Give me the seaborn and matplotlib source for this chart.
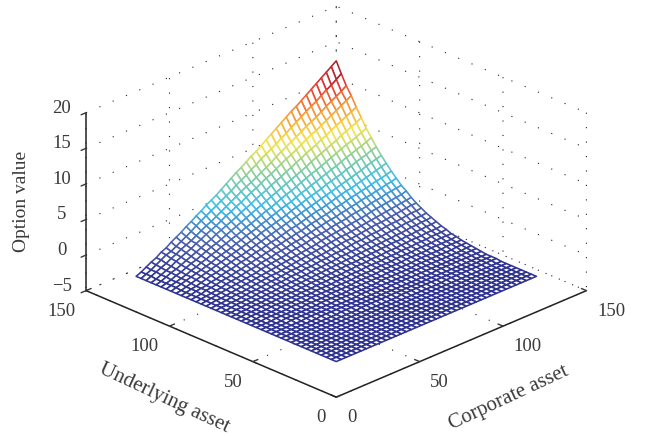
"""Option value surface: corporate asset vs underlying asset."""

import matplotlib
matplotlib.use("Agg")
import matplotlib.pyplot as plt
import numpy as np
import seaborn as sns

corporate_asset = [0, 3, 6, 9, 12, 15, 18, 21, 24, 27, 30, 33, 36, 39, 42, 45, 48, 51, 54, 57, 60,
                   63, 66, 69, 72, 75, 78, 81, 84, 87, 90, 93, 96, 99, 102, 105, 108, 111, 114, 117, 120]
underlying_asset = corporate_asset[:]

# option value, one row per underlying asset level (0 to 120)
option_value = [
    [0,0,0,0,0,0,0,0,0,0,0,0,0,0,0,0,0,0,0,0,0,0,0,0,0,0,0,0,0,0,0,0,0,0,0,0,0,0,0,0,0],
    [0,0,0,0,0,0,0,0,0,0,0,0,0,0,0,0,0,0,0,0,0,0,0,0,0,0,0,0,0,0,0,0,0,0,0,0,0,0,0,0,0],
    [0,0,0,0,0,0,0,0,0,0,0,0,0,0,0,0,0,0,0,0,0,0,0,0,0,0,0,0,0,0,0,0,0,0,0,0,0,0,0,0,0],
    [0,0,0,0,0,0,0,0,0,0,0,0,0,0,0,0,0,0,0,0,0,0,0,0,0,0,0,0,0,0,0,0,0,0,0,0,0,0,0,0,0],
    [0,0,0,0,0,0,0,0,0,0,0,0,0,0,0,0,0,0,0,0,0,0,0,0,0,0,0,0,0,0,0,0,0,0,0,0,0,0,0,0,0],
    [0,0,0,0,0,0,0,0,0,0,0,0,0,0,0,0,0,0,0,0,0,0,0,0,0,0,0,0,0,0,0,0,0,0,0,0,0,0,0,0,0],
    [0,0,0,0,0,0,0,0,0,0,0,0,0,0,0,0,0,0,0,0,0,0,0,0,0,0,0,0,0,0,0,0,0,0,0,0,0,0,0,0,0],
    [0,0,0,0,0,0,0,0,0,0,0,0,0,0,0,0,0,0,0,0,0,0,0,0,0,0,0,0,0,0,0,0,0,0,0,0,0,0,0,0,0],
    [0,0,0,0,0,0,0,0,0,0,0,0,0,0,0,0,0,0,0,0,0,0,0,0,0,0,0,0,0,0,.1,.1,.1,.1,.1,.1,.1,.1,.1,.1,.1],
    [0,0,0,0,0,0,0,0,0,0,0,0,0,0,0,0,0,0,0,0,0,0,.1,.1,.1,.1,.1,.1,.1,.1,.1,.1,.1,.1,.1,.1,.1,.1,.1,.1,.1],
    [0,0,0,0,0,0,0,0,0,0,0,0,0,0,0,.1,.1,.1,.1,.1,.1,.1,.1,.1,.1,.1,.1,.1,.1,.1,.1,.1,.1,.1,.1,.1,.1,.1,.1,.1,.1],
    [0,0,0,0,0,0,0,0,0,0,0,0,.1,.1,.1,.1,.1,.1,.1,.1,.1,.1,.1,.1,.1,.1,.1,.1,.1,.1,.1,.2,.2,.2,.2,.2,.2,.2,.2,.2,.2],
    [0,0,0,0,0,0,0,0,0,.1,.1,.1,.1,.1,.1,.1,.1,.1,.1,.1,.1,.1,.1,.2,.2,.2,.2,.2,.2,.2,.2,.2,.2,.2,.2,.2,.2,.3,.3,.3,.3],
    [0,0,0,0,0,0,0,.1,.1,.1,.1,.1,.1,.1,.1,.1,.1,.1,.2,.2,.2,.2,.2,.2,.2,.2,.2,.2,.3,.3,.3,.3,.3,.3,.3,.3,.3,.3,.3,.4,.4],
    [0,0,0,0,0,.1,.1,.1,.1,.1,.1,.1,.1,.1,.2,.2,.2,.2,.2,.2,.2,.2,.2,.3,.3,.3,.3,.3,.3,.3,.4,.4,.4,.4,.4,.4,.4,.4,.5,.5,.5],
    [0,0,0,0,0,.1,.1,.1,.1,.1,.1,.1,.2,.2,.2,.2,.2,.2,.3,.3,.3,.3,.3,.3,.3,.4,.4,.4,.4,.4,.4,.5,.5,.5,.5,.5,.5,.6,.6,.6,.6],
    [0,0,0,0,.1,.1,.1,.1,.1,.1,.2,.2,.2,.2,.2,.3,.3,.3,.3,.3,.4,.4,.4,.4,.4,.5,.5,.5,.5,.5,.6,.6,.6,.6,.6,.7,.7,.7,.7,.7,.8],
    [0,0,0,.1,.1,.1,.1,.1,.2,.2,.2,.2,.3,.3,.3,.3,.3,.4,.4,.4,.4,.5,.5,.5,.5,.6,.6,.6,.6,.7,.7,.7,.7,.8,.8,.8,.8,.9,.9,.9,.9],
    [0,0,0,.1,.1,.1,.1,.2,.2,.2,.3,.3,.3,.3,.4,.4,.4,.4,.5,.5,.5,.6,.6,.6,.7,.7,.7,.7,.8,.8,.8,.9,.9,.9,1.0,1.0,1.0,1.1,1.1,1.1,1.2],
    [0,0,.1,.1,.1,.1,.2,.2,.2,.3,.3,.3,.4,.4,.4,.5,.5,.5,.6,.6,.6,.7,.7,.8,.8,.8,.9,.9,.9,1.0,1.0,1.0,1.1,1.1,1.2,1.2,1.2,1.3,1.3,1.3,1.4],
    [0,0,.1,.1,.1,.2,.2,.2,.3,.3,.4,.4,.4,.5,.5,.6,.6,.6,.7,.7,.8,.8,.9,.9,.9,1.0,1.0,1.1,1.1,1.2,1.2,1.3,1.3,1.3,1.4,1.4,1.5,1.5,1.6,1.6,1.7],
    [0,0,.1,.1,.2,.2,.2,.3,.3,.4,.4,.5,.5,.6,.6,.7,.7,.8,.8,.9,.9,1.0,1.0,1.1,1.1,1.2,1.2,1.3,1.3,1.4,1.4,1.5,1.5,1.6,1.6,1.7,1.8,1.8,1.9,1.9,2.0],
    [0,0,.1,.1,.2,.2,.3,.3,.4,.4,.5,.6,.6,.7,.7,.8,.8,.9,1.0,1.0,1.1,1.1,1.2,1.3,1.3,1.4,1.4,1.5,1.6,1.6,1.7,1.7,1.8,1.9,1.9,2.0,2.1,2.1,2.2,2.2,2.3],
    [0,0,.1,.2,.2,.3,.3,.4,.5,.5,.6,.7,.7,.8,.9,.9,1.0,1.1,1.1,1.2,1.3,1.3,1.4,1.5,1.5,1.6,1.7,1.8,1.8,1.9,2.0,2.0,2.1,2.2,2.3,2.3,2.4,2.5,2.6,2.6,2.7],
    [0,.1,.1,.2,.2,.3,.4,.5,.5,.6,.7,.8,.8,.9,1.0,1.1,1.1,1.2,1.3,1.4,1.5,1.5,1.6,1.7,1.8,1.9,2.0,2.0,2.1,2.2,2.3,2.4,2.5,2.5,2.6,2.7,2.8,2.9,3.0,3.1,3.1],
    [0,.1,.1,.2,.3,.4,.4,.5,.6,.7,.8,.9,1.0,1.0,1.1,1.2,1.3,1.4,1.5,1.6,1.7,1.8,1.9,2.0,2.1,2.2,2.3,2.3,2.4,2.5,2.6,2.7,2.8,2.9,3.0,3.1,3.2,3.3,3.4,3.5,3.6],
    [0,.1,.2,.2,.3,.4,.5,.6,.7,.8,.9,1.0,1.1,1.2,1.3,1.4,1.5,1.6,1.7,1.8,1.9,2.0,2.1,2.3,2.4,2.5,2.6,2.7,2.8,2.9,3.0,3.1,3.2,3.4,3.5,3.6,3.7,3.8,3.9,4.0,4.2],
    [0,.1,.2,.3,.4,.5,.6,.7,.8,.9,1.0,1.1,1.3,1.4,1.5,1.6,1.7,1.8,2.0,2.1,2.2,2.3,2.5,2.6,2.7,2.8,3.0,3.1,3.2,3.3,3.5,3.6,3.7,3.8,4.0,4.1,4.2,4.4,4.5,4.6,4.7],
    [0,.1,.2,.3,.4,.5,.7,.8,.9,1.0,1.2,1.3,1.4,1.6,1.7,1.8,2.0,2.1,2.2,2.4,2.5,2.6,2.8,2.9,3.1,3.2,3.4,3.5,3.6,3.8,3.9,4.1,4.2,4.4,4.5,4.6,4.8,4.9,5.1,5.2,5.4],
    [0,.1,.2,.4,.5,.6,.8,.9,1.0,1.2,1.3,1.5,1.6,1.8,1.9,2.1,2.2,2.4,2.5,2.7,2.8,3.0,3.1,3.3,3.5,3.6,3.8,3.9,4.1,4.3,4.4,4.6,4.8,4.9,5.1,5.2,5.4,5.6,5.7,5.9,6.1],
    [0,.1,.3,.4,.5,.7,.8,1.0,1.2,1.3,1.5,1.7,1.8,2.0,2.2,2.3,2.5,2.7,2.8,3.0,3.2,3.4,3.5,3.7,3.9,4.1,4.3,4.4,4.6,4.8,5.0,5.2,5.4,5.5,5.7,5.9,6.1,6.3,6.5,6.7,6.9],
    [0,.1,.3,.4,.6,.8,1.0,1.1,1.3,1.5,1.7,1.9,2.0,2.2,2.4,2.6,2.8,3.0,3.2,3.4,3.6,3.8,4.0,4.2,4.4,4.6,4.8,5.0,5.2,5.4,5.6,5.8,6.0,6.2,6.4,6.6,6.8,7.1,7.3,7.5,7.7],
    [0,.1,.3,.5,.7,.9,1.1,1.3,1.5,1.7,1.9,2.1,2.3,2.5,2.7,2.9,3.1,3.4,3.6,3.8,4.0,4.2,4.4,4.7,4.9,5.1,5.4,5.6,5.8,6.0,6.3,6.5,6.7,6.9,7.2,7.4,7.7,7.9,8.1,8.4,8.6],
    [0,.2,.4,.6,.8,1.0,1.2,1.4,1.6,1.9,2.1,2.3,2.5,2.8,3.0,3.3,3.5,3.7,4.0,4.2,4.5,4.7,5.0,5.2,5.4,5.7,6.0,6.2,6.5,6.7,7.0,7.2,7.5,7.7,8.0,8.3,8.5,8.8,9.0,9.3,9.6],
    [0,.2,.4,.6,.8,1.1,1.3,1.6,1.8,2.1,2.3,2.6,2.8,3.1,3.3,3.6,3.9,4.1,4.4,4.7,5.0,5.2,5.5,5.8,6.1,6.3,6.6,6.9,7.2,7.5,7.7,8.0,8.3,8.6,8.9,9.2,9.5,9.7,10.0,10.3,10.6],
    [0,.2,.4,.7,.9,1.2,1.5,1.7,2.0,2.3,2.6,2.8,3.1,3.4,3.7,4.0,4.3,4.6,4.9,5.2,5.5,5.8,6.1,6.4,6.7,7.0,7.3,7.6,7.9,8.2,8.6,8.9,9.2,9.5,9.8,10.1,10.5,10.8,11.1,11.4,11.8],
    [0,.2,.5,.8,1.0,1.3,1.6,1.9,2.2,2.5,2.8,3.1,3.5,3.8,4.1,4.4,4.7,5.1,5.4,5.7,6.1,6.4,6.7,7.1,7.4,7.7,8.1,8.4,8.8,9.1,9.5,9.8,10.1,10.5,10.8,11.2,11.6,11.9,12.3,12.6,13.0],
    [0,.2,.5,.8,1.1,1.5,1.8,2.1,2.4,2.8,3.1,3.5,3.8,4.1,4.5,4.9,5.2,5.6,5.9,6.3,6.7,7.0,7.4,7.8,8.1,8.5,8.9,9.3,9.6,10.0,10.4,10.8,11.2,11.5,11.9,12.3,12.7,13.1,13.5,13.9,14.3],
    [0,.3,.6,.9,1.2,1.6,1.9,2.3,2.6,2.9,3.3,3.7,4.1,4.4,4.8,5.2,5.6,6.0,6.4,6.8,7.2,7.5,7.9,8.3,8.7,9.1,9.6,10.0,10.4,10.8,11.2,11.6,12.1,12.4,12.8,13.2,13.7,14.1,14.5,14.9,15.4],
    [0,.3,.6,1.0,1.4,1.8,2.0,2.4,2.8,3.2,3.6,4.1,4.5,4.9,5.3,5.7,6.1,6.5,6.9,7.4,7.8,8.2,8.7,9.1,9.6,10.0,10.4,10.8,11.3,11.7,12.2,12.7,13.1,13.6,14.0,14.4,14.9,15.4,15.8,16.3,16.8],
    [0,.3,.7,1.1,1.4,1.9,2.2,2.7,3.1,3.5,4.0,4.4,4.9,5.3,5.8,6.2,6.6,7.1,7.6,8.1,8.6,9.0,9.5,10.0,10.4,10.9,11.4,11.9,12.4,12.9,13.4,13.9,14.3,14.8,15.3,15.8,16.3,16.8,17.3,17.8,18.3],
]

asset_ticks = [0, 50, 100, 150]
value_ticks = [-5, 0, 5, 10, 15, 20]
value_labels = ["\u22125", "0", "5", "10", "15", "20"]

sns.set_style("white")
plt.rcParams["font.family"] = ["Liberation Serif", "DejaVu Serif"]
text_color = "#3a3a3a"

fig = plt.figure(figsize=(6.45, 4.36), dpi=100)
ax = fig.add_axes([0, 0, 1, 1], projection="3d", proj_type="ortho")
ax.view_init(elev=25.2, azim=-135)
ax.set_box_aspect((1, 1, 0.556), zoom=1.197)
ax.set_position([0.0122, 0.024, 1.0, 1.0])

X, Y = np.meshgrid(corporate_asset, underlying_asset)
Z = np.array(option_value, dtype=float)

# mesh colour from the mean of each cell
mesh_cmap = sns.blend_palette(
    ["#2f3390", "#4c5fae", "#3fbdea", "#84cfa0", "#f5e64a", "#f99a35", "#e5302f", "#8c1c2c"],
    as_cmap=True,
)
cell_z = (Z[:-1, :-1] + Z[1:, :-1] + Z[:-1, 1:] + Z[1:, 1:]) / 4
surf = ax.plot_surface(X, Y, Z, rstride=1, cstride=1, color="white", shade=False,
                       linewidth=1.15, antialiased=True)
surf.set_edgecolors(mesh_cmap(cell_z.ravel() / Z.max()))

ax.set_xlim(0, 150)
ax.set_ylim(0, 150)
ax.set_zlim(-5, 20)
ax.set_xticks(asset_ticks)
ax.set_yticks(asset_ticks)
ax.set_zticks(value_ticks)
ax.set_zticklabels(value_labels)

for axis in (ax.xaxis, ax.yaxis, ax.zaxis):
    axis.set_pane_color((1, 1, 1, 0))
    axis.pane.set_edgecolor((1, 1, 1, 0))
    axis.line.set_color("#222222")
    axis.line.set_linewidth(1.1)
    axis._axinfo["grid"].update(color="#222222", linewidth=0.8, linestyle=(0, (1, 12)))
    axis._axinfo["tick"].update(inward_factor=0.0, outward_factor=0.25, linewidth={True: 1.0, False: 0.5})
    axis.set_tick_params(labelsize=13.5, colors=text_color, pad=-1)

ax.zaxis._axinfo["tick"].update(inward_factor=0.25, outward_factor=0.0)
ax.zaxis.set_tick_params(pad=0)
ax.zaxis.set_ticks_position("upper")
ax.zaxis.set_label_position("upper")

# tick labels sit away from the axes as in the original
for tick in ax.xaxis.get_major_ticks():
    tick.label1.set_ha("left")
for tick in ax.yaxis.get_major_ticks():
    tick.label1.set_ha("right")
for tick in ax.zaxis.get_major_ticks():
    tick.label1.set_va("baseline")

ax.xaxis.set_rotate_label(False)
ax.yaxis.set_rotate_label(False)
ax.set_xlabel("Corporate asset", fontsize=15, color=text_color, labelpad=10, rotation=25)
ax.set_ylabel("Underlying asset", fontsize=15, color=text_color, labelpad=10, rotation=-25)
ax.set_zlabel("Option value", fontsize=14, color=text_color, labelpad=0)

fig.savefig("out.png", dpi=100)
